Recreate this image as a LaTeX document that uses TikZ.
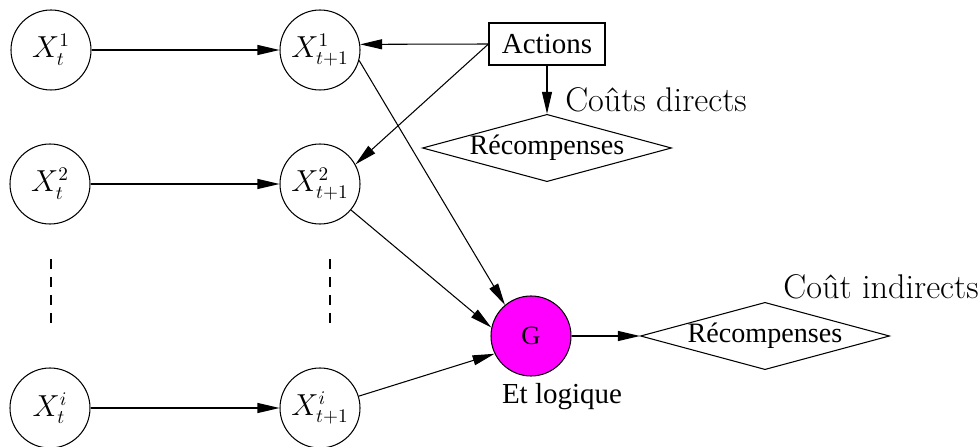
\documentclass[tikz,border=0pt]{standalone}
\usepackage{amsmath}
\usepackage{fontspec}
\newfontfamily\timesfont{Liberation Serif}
\usepackage{tikz}
\usetikzlibrary{arrows.meta}
\usetikzlibrary{shapes.geometric}
\definecolor{gmagenta}{RGB}{255,0,255}

\begin{document}
\begin{tikzpicture}[line width=0.6pt,>={Triangle[length=0.44cm,width=0.2cm]},
        etat/.style={circle,draw=black,minimum size=1.6cm,inner sep=0pt,font=\fontsize{16}{19}\selectfont},
        recomp/.style={diamond,draw=black,aspect=3.7,minimum width=4.7cm,minimum height=1.28cm,inner sep=0pt,font=\timesfont\fontsize{16}{19}\selectfont},
        cout/.style={font=\fontsize{19.5}{23}\selectfont}]
        \useasboundingbox (0,0) rectangle (19.58,8.92);

        \node[etat] (xt1) at (1.02,7.92) {$X_t^1$};
        \node[etat] (xn1) at (6.40,7.92) {$X_{t+1}^1$};
        \draw[->] (xt1) -- (xn1);

        \node[etat] (xt2) at (1.00,5.24) {$X_t^2$};
        \node[etat] (xn2) at (6.40,5.24) {$X_{t+1}^2$};
        \draw[->] (xt2) -- (xn2);

        \draw[dash pattern=on 0.2cm off 0.16cm] (1.02,3.74) -- (1.02,2.38);
        \draw[dash pattern=on 0.2cm off 0.16cm] (6.60,3.74) -- (6.60,2.38);

        \node[etat] (xti) at (1.00,0.76) {$X_t^i$};
        \node[etat] (xni) at (6.40,0.76) {$X_{t+1}^i$};
        \draw[->] (xti) -- (xni);

        \node[rectangle,draw=black,minimum width=2.32cm,minimum height=0.84cm,inner sep=0pt,font=\timesfont\fontsize{16.5}{19}\selectfont] (act) at (10.94,8.04) {Actions};
        \node[recomp] (r1) at (10.94,5.96) {Récompenses};
        \node[cout] (cd) at (13.12,6.92) {Coûts directs};
        \draw[->] (act) -- (r1);
        \draw[->] (act.west) -- (xn1.8);
        \draw[->] (act.west) -- (xn2.29);

        \node[circle,draw=black,fill=gmagenta,minimum size=1.6cm,inner sep=0pt,font=\timesfont\fontsize{15}{17}\selectfont] (g) at (10.62,2.20) {G};
        \node[font=\timesfont\fontsize{16.5}{19}\selectfont] (et) at (11.24,0.98) {Et logique};
        \draw[->] (xn1.-15) -- (g.130);
        \draw[->] (xn2.-40) -- (g.168);
        \draw[->] (xni.17) -- (g.-154);

        \node[recomp] (r2) at (15.30,2.20) {Récompenses};
        \node[cout] (ci) at (17.62,3.18) {Coût indirects};
        \draw[->] (g) -- (r2);
    \end{tikzpicture}
\end{document}
